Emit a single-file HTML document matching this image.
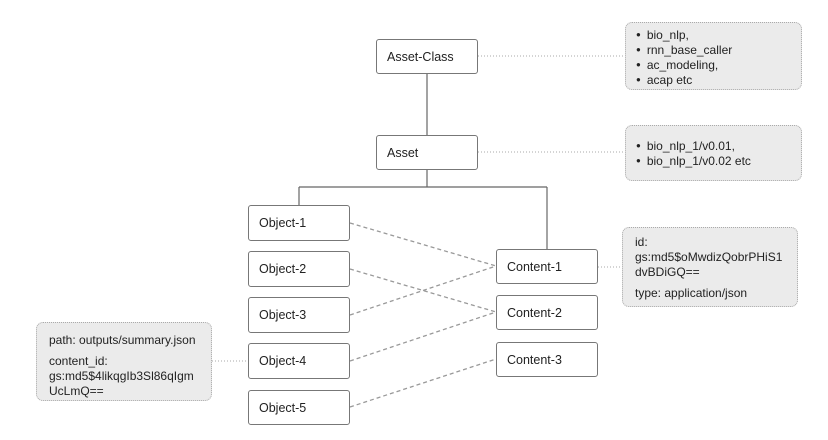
<!DOCTYPE html>
<html><head><meta charset="utf-8"><style>
body{margin:0;width:828px;height:440px;background:#fff;overflow:hidden;position:relative;font-family:"Liberation Sans",sans-serif;font-size:12.5px;color:#222}
.b{position:absolute;box-sizing:border-box;background:#fff;border:1px solid #777;border-radius:3px;padding-left:10px;display:flex;align-items:center}
.n{position:absolute;box-sizing:border-box;background:#ebebeb;border:1px dotted #aaa;border-radius:7px;font-size:12px;line-height:14px}
ul{margin:0;padding:0;list-style:none}
li{height:15px;line-height:15px}
li:before{content:"●";font-size:8px;line-height:0;vertical-align:2px;margin-right:6px}
svg{position:absolute;left:0;top:0}
</style></head><body>
<svg width="828" height="440">
<g stroke="#666" stroke-width="1.2" fill="none">
<line x1="427" y1="74" x2="427" y2="135"/>
<line x1="427" y1="170" x2="427" y2="187"/>
<line x1="299" y1="187" x2="547" y2="187"/>
<line x1="299" y1="187" x2="299" y2="205"/>
<line x1="547" y1="187" x2="547" y2="249"/>
</g>
<g stroke="#999" stroke-width="1.3" stroke-dasharray="4,3" fill="none">
<line x1="350" y1="223" x2="496" y2="266"/>
<line x1="350" y1="269" x2="496" y2="312"/>
<line x1="350" y1="315" x2="496" y2="266"/>
<line x1="350" y1="361" x2="496" y2="312"/>
<line x1="350" y1="407" x2="496" y2="359"/>
</g>
<g stroke="#aaa" stroke-width="1" stroke-dasharray="1,2" fill="none">
<line x1="478" y1="56" x2="625" y2="56"/>
<line x1="478" y1="152" x2="625" y2="152"/>
<line x1="598" y1="267" x2="622" y2="267"/>
<line x1="212" y1="361" x2="248" y2="361"/>
</g>
</svg>
<div class="b" style="left:376px;top:39px;width:102px;height:35px">Asset-Class</div>
<div class="b" style="left:376px;top:135px;width:102px;height:35px">Asset</div>
<div class="b" style="left:248px;top:205px;width:102px;height:36px">Object-1</div>
<div class="b" style="left:248px;top:251px;width:102px;height:36px">Object-2</div>
<div class="b" style="left:248px;top:297px;width:102px;height:36px">Object-3</div>
<div class="b" style="left:248px;top:343px;width:102px;height:36px">Object-4</div>
<div class="b" style="left:248px;top:390px;width:102px;height:35px">Object-5</div>
<div class="b" style="left:496px;top:249px;width:102px;height:35px">Content-1</div>
<div class="b" style="left:496px;top:295px;width:102px;height:35px">Content-2</div>
<div class="b" style="left:496px;top:342px;width:102px;height:35px">Content-3</div>
<div class="n" style="left:625px;top:22px;width:177px;height:68px;padding:5px 0 0 10px"><ul><li>bio_nlp,</li><li>rnn_base_caller</li><li>ac_modeling,</li><li>acap etc</li></ul></div>
<div class="n" style="left:625px;top:125px;width:177px;height:56px;padding:13px 0 0 10px"><ul><li>bio_nlp_1/v0.01,</li><li>bio_nlp_1/v0.02 etc</li></ul></div>
<div class="n" style="left:622px;top:227px;width:176px;height:80px;padding:7px 0 0 12px;line-height:15px">id:<br>gs:md5$oMwdizQobrPHiS1<br>dvBDiGQ==<div style="margin-top:6px">type: application/json</div></div>
<div class="n" style="left:36px;top:322px;width:176px;height:79px;padding:10px 0 0 12px;line-height:15px">path: outputs/summary.json<div style="margin-top:6px">content_id:<br>gs:md5$4likqgIb3Sl86qIgm<br>UcLmQ==</div></div>
</body></html>
